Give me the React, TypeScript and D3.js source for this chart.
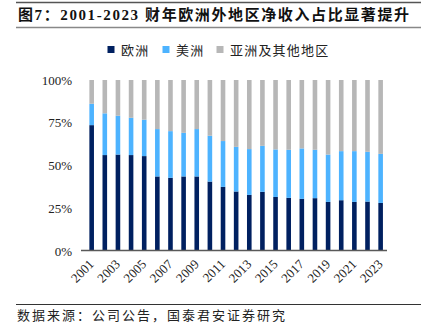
import React from "react";
import * as d3 from "d3";

const years = d3.range(2001, 2024).map(String);
const europe = [73.6, 56.1, 56.4, 56.1, 55.5, 43.6, 42.8, 43.6, 43.6, 40.6, 37.5, 34.8, 32.8, 34.6, 31.6, 31.1, 30.5, 30.9, 28.7, 29.7, 28.7, 28.9, 28.1];
const americas = [12.5, 24.4, 22.7, 21.8, 21.3, 27.7, 27.3, 25.5, 27.7, 26.8, 26.8, 26.1, 26.8, 26.9, 27.8, 28.1, 29.5, 28.3, 27.7, 28.7, 29.7, 29.1, 28.7];
const yTicks = [0, 25, 50, 75, 100];
const seriesNames = ["欧洲", "美洲", "亚洲及其他地区"];
const colors = ["#002060", "#4db3ff", "#b7b7b7"];

const serif = "'Liberation Serif', 'Times New Roman', 'Noto Sans CJK SC', serif";
const cjk = "'Liberation Serif', 'Noto Sans CJK SC', serif";

export default function App() {
  const W = 434, H = 325;
  const x = d3.scaleBand<string>().domain(years).range([85.1, 387.2]).paddingInner(0.65).paddingOuter(0.325);
  const y = d3.scaleLinear().domain([0, 100]).range([251, 80]);
  const rows = years.map((yr, i) => ({ yr, eu: europe[i], am: americas[i], as: 100 - europe[i] - americas[i] }));
  const stack = d3.stack<any>().keys(["eu", "am", "as"])(rows);
  const legendX = [111, 166, 220];
  return (
    <svg width={W} height={H} style={{ position: "absolute", left: 0, top: 0, background: "#fff" }}>
      <line x1={16} x2={421} y1={2.5} y2={2.5} stroke="#555" strokeWidth={1.5} />
      <text x={18} y={20} fontFamily={cjk} fontWeight="bold" fontSize={15} letterSpacing={1.6} fill="#111">图7：2001-2023 财年欧洲外地区净收入占比显著提升</text>
      <line x1={16} x2={421} y1={27.5} y2={27.5} stroke="#888" strokeWidth={1.5} />
      {seriesNames.map((n, i) => (
        <g key={n}>
          <rect x={legendX[i] - 3.5} y={46} width={7} height={7} fill={colors[i]} />
          <text x={legendX[i] + 10} y={54.5} fontFamily={cjk} fontSize={13} letterSpacing={1.2} fill="#222">{n}</text>
        </g>
      ))}
      {stack.map((s, si) => (
        <g key={si} fill={colors[si]}>
          {s.map((d: any, i: number) => (
            <rect key={i} x={x(years[i])} width={x.bandwidth()} y={y(d[1])} height={y(d[0]) - y(d[1])} />
          ))}
        </g>
      ))}
      <line x1={81} x2={387} y1={250.5} y2={250.5} stroke="#595959" strokeWidth={1.5} />
      {yTicks.map(t => (
        <text key={t} x={72} y={y(t)} dy="0.35em" textAnchor="end" fontFamily={serif} fontSize={13} fill="#222">{t}%</text>
      ))}
      {years.filter((_, i) => i % 2 === 0).map(yr => {
        const cx = (x(yr) as number) + x.bandwidth() / 2;
        return (
          <text key={yr} transform={`translate(${cx + 3},${265}) rotate(-45)`} textAnchor="end" fontFamily={serif} fontSize={13} fill="#222">{yr}</text>
        );
      })}
      <line x1={16} x2={421} y1={304.5} y2={304.5} stroke="#333" strokeWidth={1} />
      <text x={17} y={320} fontFamily={cjk} fontSize={13} letterSpacing={2} fill="#222">数据来源：公司公告，国泰君安证券研究</text>
    </svg>
  );
}
